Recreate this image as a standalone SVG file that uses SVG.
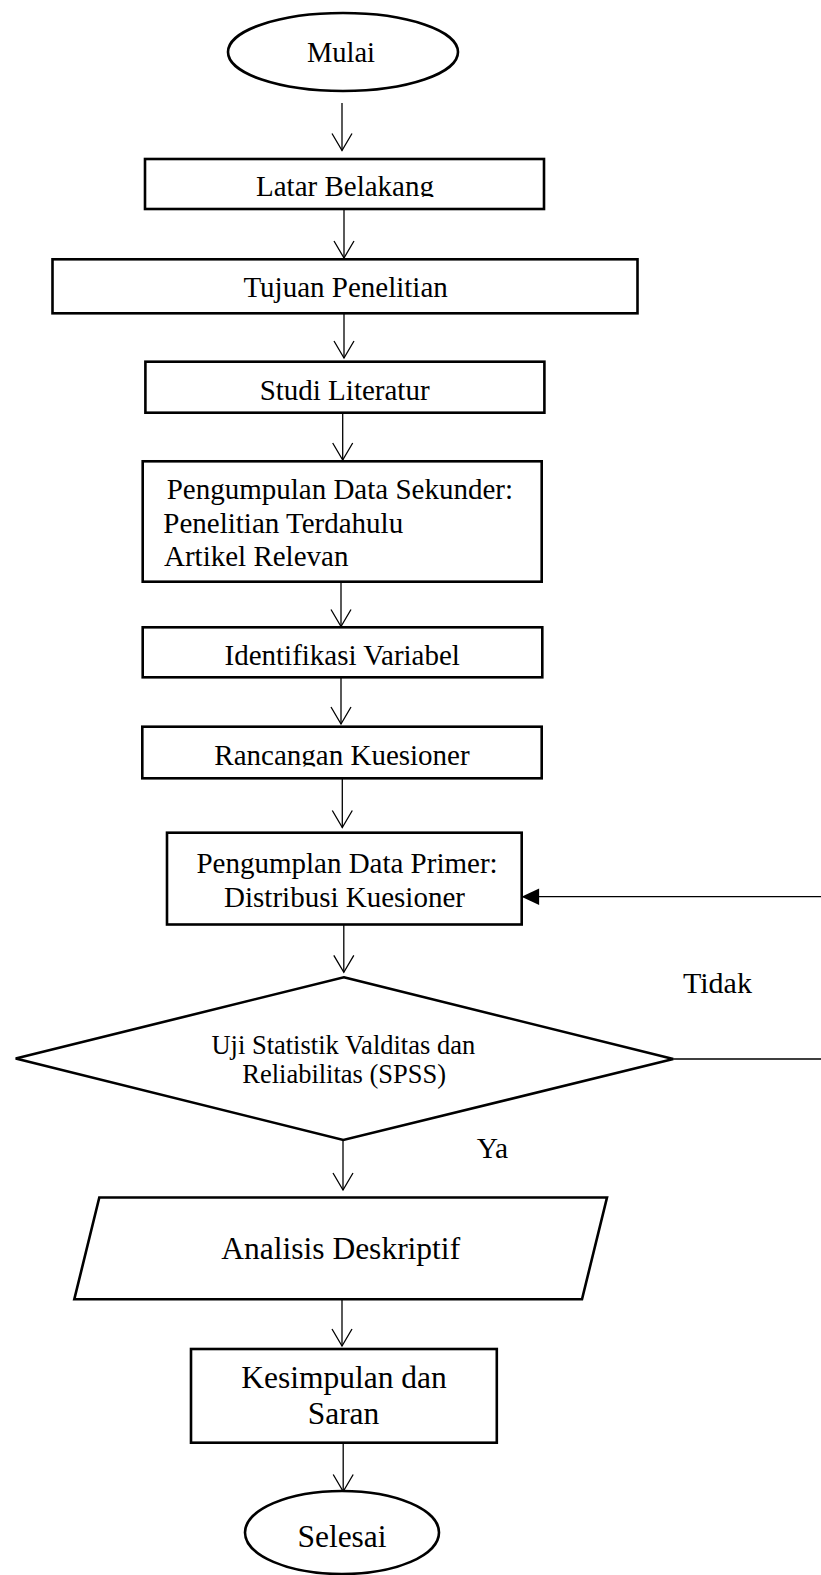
<svg xmlns="http://www.w3.org/2000/svg" width="821" height="1575" viewBox="0 0 821 1575">
  <style>
    .shape { fill: #ffffff; stroke: #000000; stroke-width: 2.6; }
    .conn { fill: none; stroke: #000000; stroke-width: 1.3; }
    text { font-family: "Liberation Serif", "Times New Roman", serif; fill: #000000; }
    .t29 { font-size: 29px; }
    .t32 { font-size: 31.5px; }
    .c { text-anchor: middle; }
  </style>
  <defs>
    <marker id="open" markerUnits="userSpaceOnUse" markerWidth="24" markerHeight="24" viewBox="-20 -12 22 24" refX="0" refY="0" orient="auto">
      <path d="M-17,-10 L0,0 L-17,10" fill="none" stroke="#000" stroke-width="1.3"/>
    </marker>
    <marker id="filled" markerUnits="userSpaceOnUse" markerWidth="20" markerHeight="20" viewBox="-16 -8 17 16" refX="0" refY="0" orient="auto">
      <path d="M-15,-7 L0,0 L-15,7 Z" fill="#000" stroke="none"/>
    </marker>
    <clipPath id="clipLatar"><rect x="145" y="159" width="399" height="38"/></clipPath>
    <clipPath id="clipRancangan"><rect x="142" y="727" width="400" height="39.5"/></clipPath>
  </defs>

  <g id="connectors">
    <line class="conn" x1="342" y1="103" x2="342" y2="150.5" marker-end="url(#open)"/>
    <line class="conn" x1="344" y1="209" x2="344" y2="258" marker-end="url(#open)"/>
    <line class="conn" x1="344" y1="313" x2="344" y2="358" marker-end="url(#open)"/>
    <line class="conn" x1="342.7" y1="413" x2="342.7" y2="460" marker-end="url(#open)"/>
    <line class="conn" x1="341" y1="582" x2="341" y2="626.5" marker-end="url(#open)"/>
    <line class="conn" x1="341" y1="677" x2="341" y2="724" marker-end="url(#open)"/>
    <line class="conn" x1="342.3" y1="778" x2="342.3" y2="827.5" marker-end="url(#open)"/>
    <line class="conn" x1="343.8" y1="925" x2="343.8" y2="972.3" marker-end="url(#open)"/>
    <line class="conn" x1="343" y1="1140" x2="343" y2="1190" marker-end="url(#open)"/>
    <line class="conn" x1="342" y1="1299" x2="342" y2="1346" marker-end="url(#open)"/>
    <line class="conn" x1="343.2" y1="1443" x2="343.2" y2="1491.5" marker-end="url(#open)"/>
    <path class="conn" d="M673.3,1059 H823 V896.7 H521.5" marker-end="url(#filled)"/>
  </g>

  <g id="mulai">
    <ellipse class="shape" cx="343" cy="52" rx="115" ry="39"/>
    <text class="c" x="341" y="62" style="font-size:28.5px">Mulai</text>
  </g>

  <g id="latar-belakang">
    <rect class="shape" x="145" y="159" width="399" height="50"/>
    <text class="t29 c" x="345" y="196" clip-path="url(#clipLatar)">Latar Belakang</text>
  </g>

  <g id="tujuan-penelitian">
    <rect class="shape" x="52.5" y="259.3" width="585" height="54"/>
    <text class="t29 c" x="345.6" y="297">Tujuan Penelitian</text>
  </g>

  <g id="studi-literatur">
    <rect class="shape" x="145.4" y="361.7" width="399" height="51"/>
    <text class="t29 c" x="344.6" y="400">Studi Literatur</text>
  </g>

  <g id="pengumpulan-sekunder">
    <rect class="shape" x="142.7" y="461.3" width="399" height="120.4"/>
    <text class="t29" x="166.7" y="499">Pengumpulan Data Sekunder:</text>
    <text class="t29" x="163.3" y="532.5">Penelitian Terdahulu</text>
    <text class="t29" x="164" y="566">Artikel Relevan</text>
  </g>

  <g id="identifikasi-variabel">
    <rect class="shape" x="142.7" y="627.3" width="399.6" height="50"/>
    <text class="t29 c" x="342.2" y="665">Identifikasi Variabel</text>
  </g>

  <g id="rancangan-kuesioner">
    <rect class="shape" x="142.3" y="726.7" width="399.4" height="51.6"/>
    <text class="t29 c" x="342" y="765" clip-path="url(#clipRancangan)">Rancangan Kuesioner</text>
  </g>

  <g id="pengumpulan-primer">
    <rect class="shape" x="167" y="832.7" width="354.7" height="91.8"/>
    <text class="t29 c" x="347" y="872.7">Pengumplan Data Primer:</text>
    <text class="t29 c" x="344.5" y="906.7">Distribusi Kuesioner</text>
  </g>

  <g id="uji-statistik">
    <polygon class="shape" points="343.8,977.3 673.3,1059 343.3,1140 15.7,1058.5"/>
    <text class="c" x="343.3" y="1053.5" style="font-size:26.5px">Uji Statistik Valditas dan</text>
    <text class="c" x="344.2" y="1083" style="font-size:26.5px">Reliabilitas (SPSS)</text>
  </g>

  <g id="label-tidak">
    <text x="683" y="993" style="font-size:30px">Tidak</text>
  </g>

  <g id="label-ya">
    <text x="476.7" y="1158" style="font-size:29.5px">Ya</text>
  </g>

  <g id="analisis-deskriptif">
    <polygon class="shape" points="99.3,1197.5 607,1197.5 582,1299.3 74.3,1299.3"/>
    <text class="t32 c" x="340.7" y="1259">Analisis Deskriptif</text>
  </g>

  <g id="kesimpulan-saran">
    <rect class="shape" x="191" y="1349" width="305.8" height="93.7"/>
    <text class="t32 c" x="344" y="1388.3">Kesimpulan dan</text>
    <text class="t32 c" x="343.5" y="1424.3">Saran</text>
  </g>

  <g id="selesai">
    <ellipse class="shape" cx="342" cy="1532.5" rx="97" ry="41.5"/>
    <text class="t32 c" x="342" y="1546.5">Selesai</text>
  </g>
</svg>
